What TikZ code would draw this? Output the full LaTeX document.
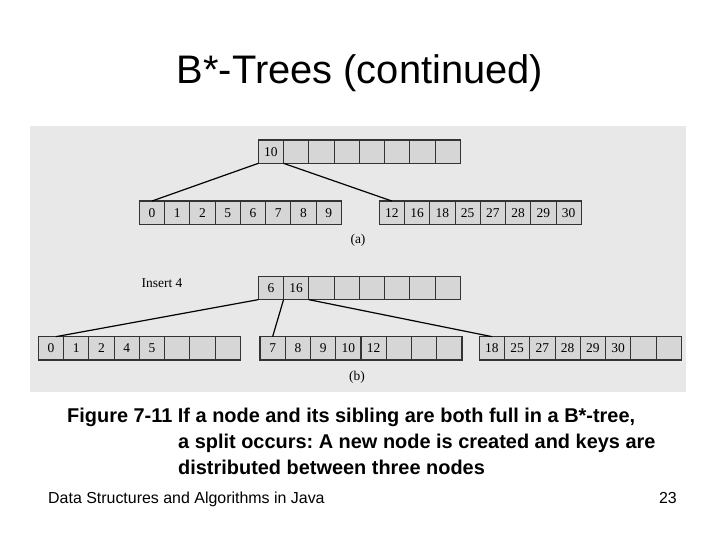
\documentclass[tikz,border=0pt]{standalone}
\usepackage{fontspec}
\setmainfont{Liberation Serif}
\newfontfamily\slidefont{Liberation Sans}
\usetikzlibrary{positioning}
\frenchspacing

\definecolor{panelgray}{RGB}{232,232,232}
\definecolor{cellgray}{RGB}{214,214,214}

\tikzset{
	cell/.style={draw=black!80, line width=1.1bp, fill=cellgray, minimum width=25.25bp,
		minimum height=23.3bp, inner sep=0pt, outer sep=0pt, font=\fontsize{13.5}{15}\selectfont},
	link/.style={line width=1.2bp, black},
	figtext/.style={font=\fontsize{13.5}{15}\selectfont, inner sep=0pt},
}

% one B*-tree node: name, left edge, centre y, keys
\newcommand{\keynode}[4]{%
	\coordinate (#1-0) at (#2,#3);
	\foreach \k [count=\i, remember=\i as \j (initially 0)] in {#4}
		\node[cell, right=0pt of #1-\j] (#1-\i) {\k};
}

\begin{document}
\begin{tikzpicture}[x=1bp, y=-1bp]
	\fill[white] (0,0) rectangle (720,540);
	\useasboundingbox (0,0) rectangle (720,540);

	\node[anchor=base, inner sep=0pt, font=\slidefont\fontsize{40}{48}\selectfont] (title) at (360,84) {B*-Trees (continued)};

	\fill[panelgray] (30,125.7) rectangle (686,391.7);

	% (a)
	\keynode{ta}{258.3}{151.7}{10,{},{},{},{},{},{},{}}
	\keynode{la}{139.3}{212.7}{0,1,2,5,6,7,8,9}
	\keynode{ra}{379.3}{212.7}{12,16,18,25,27,28,29,30}
	\draw[link] (ta-1.south west) -- (la-1.north);
	\draw[link] (ta-1.south east) -- (ra-1.north);
	\node[figtext] (lbla) at (358,240) {(a)};

	% (b)
	\node[figtext] (ins) at (162,283) {Insert 4};
	\keynode{tb}{258.3}{288}{6,16,{},{},{},{},{},{}}
	\keynode{lb}{38.3}{348.3}{0,1,2,4,5,{},{},{}}
	\keynode{mb}{260}{348.3}{7,8,9,10,12,{},{},{}}
	\keynode{rb}{479.3}{348.3}{18,25,27,28,29,30,{},{}}
	\draw[link] (tb-1.south west) -- ([xshift=5bp]lb-1.north);
	\draw[link] (tb-1.south east) -- (mb-1.north);
	\draw[link] (tb-2.south east) -- (rb-1.north);
	\node[figtext] (lblb) at (357,377) {(b)};

	\begin{scope}[every node/.style={anchor=base west, inner sep=0pt, font=\slidefont\bfseries\fontsize{20}{24}\selectfont}]
		\node (cap1) at (67,422) {Figure 7-11 If a node and its sibling are both full in a B*-tree,};
		\node (cap2) at (178,448) {a split occurs: A new node is created and keys are};
		\node (cap3) at (178,474) {distributed between three nodes};
	\end{scope}

	\node[anchor=base west, inner sep=0pt, font=\slidefont\fontsize{16}{19}\selectfont] (foot) at (48,503) {Data Structures and Algorithms in Java};
	\node[anchor=base east, inner sep=0pt, font=\slidefont\fontsize{16}{19}\selectfont] (page) at (677,503) {23};
\end{tikzpicture}
\end{document}
